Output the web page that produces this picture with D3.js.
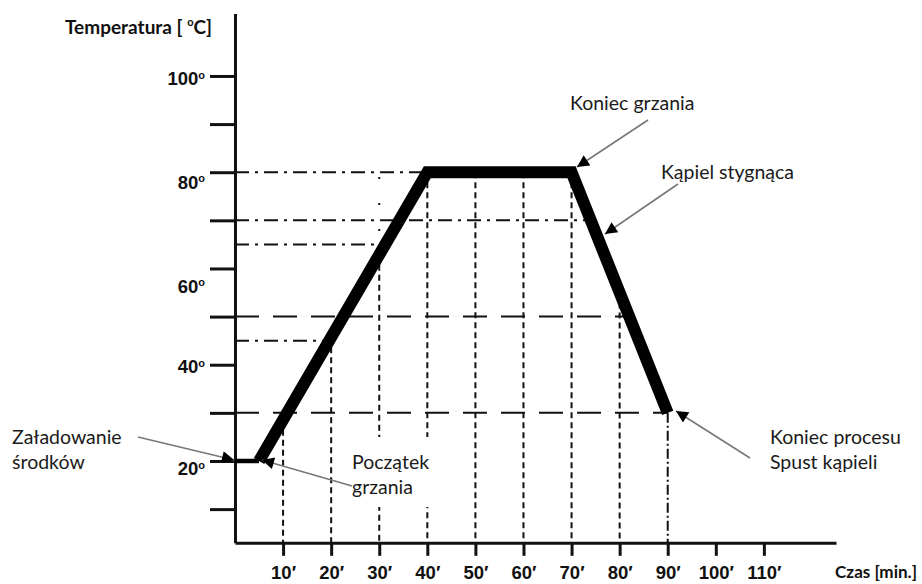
<!DOCTYPE html>
<html>
<head>
<meta charset="utf-8">
<script src="https://cdn.jsdelivr.net/npm/d3@7"></script>
<style>
  body { margin: 0; background: #fff; }
  svg { display: block; font-family: Lato, "Open Sans", sans-serif; }
  .tick text { font-weight: bold; font-size: 18.5px; fill: #111; }
  .note { font-size: 19.5px; fill: #1a1a1a; }
</style>
</head>
<body>
<div id="chart"></div>
<script>
// data: temperature profile of the bath (minutes, degrees C)
const profileTime = [0, 5, 40, 70, 90];
const profileTemp = [20, 20, 80, 80, 30];

const yTicks = [10, 20, 30, 40, 50, 60, 70, 80, 90, 100];
const yLabelled = [20, 40, 60, 80, 100];
// the labels in the original sit a little below their ticks, by uneven amounts
const yLabelShift = [8, 2, 18, 10, 3];
const xTicks = [10, 20, 30, 40, 50, 60, 70, 80, 90, 100, 110];

// horizontal helper lines: temperature, which flank of the curve they meet, style
const hLineTemp = [80, 70, 65, 50, 45, 30];
const hLineSide = ['rise', 'fall', 'rise', 'fall', 'rise', 'fall'];
const hLineStyle = ['dashdot', 'dashdot', 'dashdot', 'dash', 'dashdot', 'dash'];

// vertical helper lines at these minutes
const vLineTime = [10, 20, 30, 40, 50, 60, 70, 80, 90];
const vLineStyle = ['dot', 'dot', 'dot', 'dot', 'dot', 'dot', 'dot', 'dot', 'dashdot'];

const svgWidth = 922;
const svgHeight = 584;

const svg = d3.select('#chart').append('svg')
    .attr('width', svgWidth).attr('height', svgHeight);

// scales
const xScale = d3.scaleLinear().domain([0, 125]).range([235, 836]);
const yScale = d3.scaleLinear().domain([3, 113]).range([542.8, 13.4]);

const dashes = {
    dash: '24,14',
    dashdot: '14,6,3,6',
    dot: '6,4',
};

// temperature on the curve at a given minute
function tempAt(t) {
    for (let i = 1; i < profileTime.length; i++) {
        if (t <= profileTime[i]) {
            const f = (t - profileTime[i-1]) / (profileTime[i] - profileTime[i-1]);
            return profileTemp[i-1] + f * (profileTemp[i] - profileTemp[i-1]);
        }
    }
    return profileTemp[profileTemp.length - 1];
}

// minute at which the rising or falling flank reaches a temperature
function timeAt(v, side) {
    const i = side === 'rise' ? 2 : 4;
    const f = (v - profileTemp[i-1]) / (profileTemp[i] - profileTemp[i-1]);
    return profileTime[i-1] + f * (profileTime[i] - profileTime[i-1]);
}

// helper lines
const guides = svg.append('g').attr('stroke', '#111').attr('fill', 'none');

hLineTemp.forEach((v, i) => {
    guides.append('line')
        .attr('x1', xScale(0)).attr('x2', xScale(timeAt(v, hLineSide[i])))
        .attr('y1', yScale(v)).attr('y2', yScale(v))
        .attr('stroke-width', 2)
        .attr('stroke-dasharray', dashes[hLineStyle[i]]);
});

vLineTime.forEach((t, i) => {
    guides.append('line')
        .attr('x1', xScale(t)).attr('x2', xScale(t))
        .attr('y1', yScale(tempAt(t))).attr('y2', yScale(3))
        .attr('stroke-width', 2)
        .attr('stroke-dasharray', vLineStyle[i] === 'dot' ? dashes.dot : '10,3,2,3');
});

// faint dotted continuation at 30' above the curve
guides.append('line')
    .attr('x1', xScale(30)).attr('x2', xScale(30))
    .attr('y1', yScale(79)).attr('y2', yScale(tempAt(30)))
    .attr('stroke-width', 2)
    .attr('stroke-dasharray', '2,24');

// white patch behind "Początek grzania" so the guides break there
svg.append('rect')
    .attr('x', 348).attr('y', 437)
    .attr('width', 88).attr('height', 70)
    .attr('fill', '#fff');

// axes
const leftAxis = d3.axisLeft(yScale)
    .tickValues(yTicks)
    .tickSizeInner(25).tickSizeOuter(0)
    .tickPadding(5)
    .tickFormat(d => yLabelled.includes(d) ? d : '');

const bottomAxis = d3.axisBottom(xScale)
    .tickValues(xTicks)
    .tickSizeInner(13).tickSizeOuter(0)
    .tickPadding(10)
    .tickFormat(d => d + '\u2032');

const yAxis = svg.append('g')
    .attr('transform', `translate(${xScale(0)},0)`)
    .call(leftAxis);

const xAxis = svg.append('g')
    .attr('transform', `translate(0,${yScale(3)})`)
    .call(bottomAxis);

[xAxis, yAxis].forEach(ax => {
    ax.select('.domain').attr('stroke', '#111').attr('stroke-width', 3);
    ax.selectAll('.tick line').attr('stroke', '#111').attr('stroke-width', 3);
    ax.selectAll('text').attr('font-family', null).attr('font-size', null);
});

// degree sign as a small superscript "o" after each temperature label
yAxis.selectAll('.tick text')
    .filter(d => yLabelled.includes(d))
    .attr('dy', d => (0.32 * 18.5 + yLabelShift[yLabelled.indexOf(d)]) + 'px')
    .append('tspan')
    .attr('dy', '-0.6em')
    .attr('font-size', '11px')
    .text('o');

// axis titles
const title = svg.append('text')
    .attr('x', 65).attr('y', 34)
    .attr('font-weight', 'bold').attr('font-size', '19px')
    .attr('fill', '#111');
title.append('tspan').text('Temperatura [ ');
title.append('tspan').attr('font-size', '11px').attr('dy', '-8').text('o');
title.append('tspan').attr('dy', '8').text('C]');

svg.append('text')
    .attr('x', 835).attr('y', 578)
    .attr('font-weight', 'bold').attr('font-size', '17px')
    .attr('textLength', 82).attr('lengthAdjust', 'spacingAndGlyphs')
    .attr('fill', '#111')
    .text('Czas [min.]');

// the temperature curve
const pts = profileTime.map((t, i) => [xScale(t), yScale(profileTemp[i])]);

svg.append('path')
    .attr('d', d3.line()(pts.slice(0, 2)))
    .attr('stroke', '#000').attr('stroke-width', 4.5)
    .attr('fill', 'none');

svg.append('path')
    .attr('d', d3.line()(pts.slice(1)))
    .attr('stroke', '#000').attr('stroke-width', 12)
    .attr('stroke-linejoin', 'miter')
    .attr('fill', 'none');

// annotations: text lines, text anchor point, arrow start and arrow tip (pixels)
const notes = [
    {lines: ['Koniec grzania'], x: 570, y: 110, from: [648, 120], to: [577, 167]},
    {lines: ['K\u0105piel stygn\u0105ca'], x: 661, y: 179, from: [678, 184], to: [605, 234]},
    {lines: ['Koniec procesu', 'Spust k\u0105pieli'], x: 770, y: 444, from: [750, 458], to: [676, 411]},
    {lines: ['Za\u0142adowanie', '\u015brodk\u00f3w'], x: 12, y: 444, from: [138, 437], to: [234, 460]},
    {lines: ['Pocz\u0105tek', 'grzania'], x: 352, y: 469, from: [352, 486], to: [262, 460]},
];

svg.append('defs').append('marker')
    .attr('id', 'head')
    .attr('viewBox', '0 0 10 10')
    .attr('refX', 10).attr('refY', 5)
    .attr('markerWidth', 16).attr('markerHeight', 12)
    .attr('markerUnits', 'userSpaceOnUse')
    .attr('orient', 'auto')
    .append('path')
    .attr('d', 'M0,0 L10,5 L0,10 Z')
    .attr('fill', '#000');

notes.forEach(n => {
    svg.append('line')
        .attr('x1', n.from[0]).attr('y1', n.from[1])
        .attr('x2', n.to[0]).attr('y2', n.to[1])
        .attr('stroke', '#777').attr('stroke-width', 1.6)
        .attr('marker-end', 'url(#head)');

    const t = svg.append('text')
        .attr('class', 'note')
        .attr('x', n.x).attr('y', n.y);
    n.lines.forEach((s, i) => {
        t.append('tspan')
            .attr('x', n.x).attr('dy', i === 0 ? 0 : 25)
            .text(s);
    });
});
</script>
</body>
</html>
